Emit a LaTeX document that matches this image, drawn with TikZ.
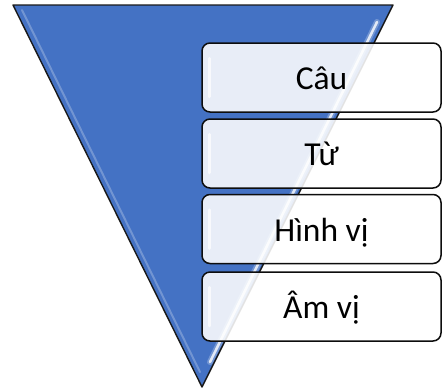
\documentclass[tikz,border=0pt]{standalone}
\usepackage{fontspec}
\setmainfont{Carlito}
\usetikzlibrary{calc}
\definecolor{funnelblue}{RGB}{68,114,196}
\tikzset{
  levelbox/.style={draw=black!95, line width=1.5pt, rounded corners=8pt,
    fill=white, fill opacity=0.88, text opacity=1,
    minimum width=239pt, minimum height=69pt, inner sep=0pt,
    text height=24pt, text depth=0pt,
    font=\fontsize{33.5}{33.5}\selectfont},
  gloss/.style={white, line cap=round}
}
\begin{document}
\begin{tikzpicture}[x=1pt,y=-1pt]
\useasboundingbox (0,0) rectangle (443,389);

% inverted pyramid
\coordinate (tl) at (13,5);
\coordinate (tr) at (393,5);
\coordinate (tip) at (202,387);
\fill[funnelblue] (tl) -- (tr) -- (tip) -- cycle;

% bevel highlights along the edges
\draw[gloss, line width=6pt, opacity=0.25] (377,22) -- (210,362);
\draw[gloss, line width=2.5pt, opacity=0.8] (377,22) -- (210,362);
\draw[gloss, line width=2pt, opacity=0.25] (22,10) -- (200,372);

\draw[black!90, line width=1.4pt, line join=round] (tl) -- (tr) -- (tip) -- cycle;

% levels
\node[levelbox] (cau)   at (321.5,77.5)  {Câu};
\node[levelbox] (tu)    at (321.5,153.5) {Từ};
\node[levelbox] (hinh)  at (321.5,229)   {Hình vị};
\node[levelbox] (am)    at (321.5,306.5) {Âm vị};

% soft gloss on the left inside of each box
\foreach \b in {cau,tu,hinh,am}{
  \draw[gloss, line width=3pt, opacity=0.7]
    ($(\b.north west)+(8,16)$) -- ($(\b.south west)+(8,-16)$);
}
\end{tikzpicture}
\end{document}
